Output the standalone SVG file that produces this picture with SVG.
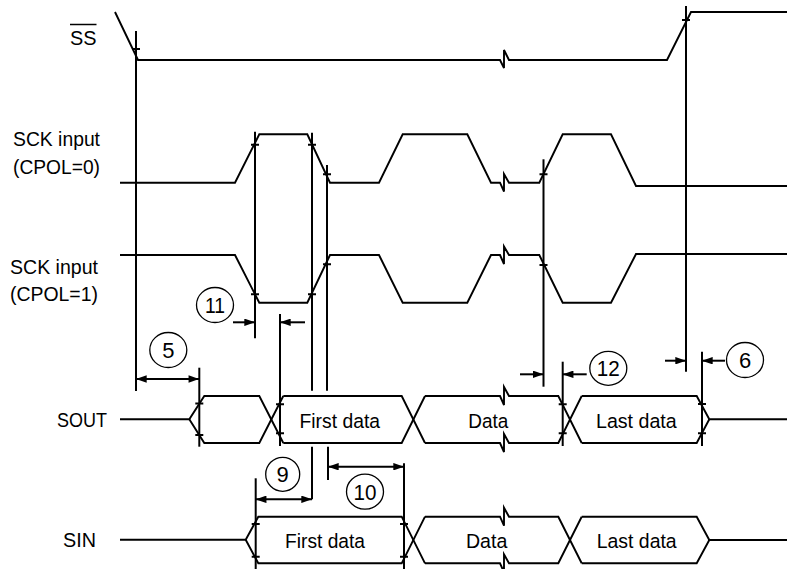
<svg xmlns="http://www.w3.org/2000/svg" width="787" height="569" viewBox="0 0 787 569">
<defs>
<marker id="ah" viewBox="0 0 10 7" refX="10" refY="3.5" markerWidth="11" markerHeight="7.5" markerUnits="userSpaceOnUse" orient="auto-start-reverse">
<path d="M0,0 L10,3.5 L0,7 z" fill="#000"/>
</marker>
</defs>
<style>
.w{fill:none;stroke:#000;stroke-width:1.9;stroke-linejoin:miter}
.v{stroke:#000;stroke-width:2}
.t{stroke:#000;stroke-width:2}
.a{stroke:#000;stroke-width:2;marker-end:url(#ah)}
.d{stroke:#000;stroke-width:2;marker-start:url(#ah);marker-end:url(#ah)}
.c{fill:#fff;stroke:#000;stroke-width:1.3}
text{font-family:"Liberation Sans",Arial,sans-serif;font-size:20.5px;fill:#000}
.m{text-anchor:middle}
.n{font-size:22px}
</style>
<rect width="787" height="569" fill="#fff"/>

<g id="labels">
<text x="70" y="45" textLength="26.5" lengthAdjust="spacingAndGlyphs">SS</text>
<line x1="70" y1="24.5" x2="96.5" y2="24.5" stroke="#000" stroke-width="1.5"/>
<text x="13" y="146" textLength="87" lengthAdjust="spacingAndGlyphs">SCK input</text>
<text x="13" y="173.5" textLength="87" lengthAdjust="spacingAndGlyphs">(CPOL=0)</text>
<text x="10" y="273.5" textLength="88" lengthAdjust="spacingAndGlyphs">SCK input</text>
<text x="10" y="300.5" textLength="88" lengthAdjust="spacingAndGlyphs">(CPOL=1)</text>
<text x="57" y="427" textLength="50" lengthAdjust="spacingAndGlyphs">SOUT</text>
<text x="63" y="547" textLength="33" lengthAdjust="spacingAndGlyphs">SIN</text>
</g>

<g id="ss">
<polyline class="w" points="115,12 138,60 500,60 504,68 504,50 509,60 667,60 691,12 787,12"/>
</g>

<g id="sck0">
<polyline class="w" points="120,182.7 235,182.7 259.3,134.3 307.3,134.3 330,182.7 379,182.7 402.7,134.3 467.3,134.3 491,182.7 500,182.7 504,191.5 504,174 509,182.7 539.3,182.7 562.7,134.3 611,134.3 636,186 787,186"/>
</g>

<g id="sck1">
<polyline class="w" points="120,255 235,255 259.3,302.7 307.3,302.7 330,255 379,255 402.7,302.7 467.3,302.7 491,255 500,255 504,264 504,246.5 509,255 539.3,255 562.7,302.7 611,302.7 636,254 787,254"/>
</g>

<g id="sout">
<polyline class="w" points="120,419.3 189.3,419.3 204.3,396 259.3,396 283.3,443"/>
<polyline class="w" points="189.3,419.3 204.3,443 259.3,443 283.3,396"/>
<polyline class="w" points="283.3,396 401.7,396 425,443"/>
<polyline class="w" points="283.3,443 401.7,443 425,396"/>
<polyline class="w" points="425,396 500,396 504,405 504,387 509,396 558.3,396 581.7,443"/>
<polyline class="w" points="425,443 500,443 504,452 504,434 509,443 558.3,443 581.7,396"/>
<polyline class="w" points="581.7,396 696.7,396 709.3,419.3 787,419.3"/>
<polyline class="w" points="581.7,443 696.7,443 709.3,419.3"/>
<text x="299.5" y="428" textLength="80.5" lengthAdjust="spacingAndGlyphs">First data</text>
<text x="468.3" y="428" textLength="40" lengthAdjust="spacingAndGlyphs">Data</text>
<text x="596" y="428" textLength="80.7" lengthAdjust="spacingAndGlyphs">Last data</text>
</g>

<g id="sin">
<polyline class="w" points="120,539.7 245.7,539.7 258.3,516.7 401.7,516.7 425,563.3"/>
<polyline class="w" points="245.7,539.7 258.3,563.3 401.7,563.3 425,516.7"/>
<polyline class="w" points="425,516.7 500,516.7 504,525.7 504,507.7 509,516.7 558.3,516.7 581.7,563.3"/>
<polyline class="w" points="425,563.3 500,563.3 504,572.3 504,554.3 509,563.3 558.3,563.3 581.7,516.7"/>
<polyline class="w" points="581.7,516.7 696.7,516.7 709.3,540 787,540"/>
<polyline class="w" points="581.7,563.3 696.7,563.3 709.3,540"/>
<text x="285" y="548" textLength="80" lengthAdjust="spacingAndGlyphs">First data</text>
<text x="466" y="548" textLength="41.3" lengthAdjust="spacingAndGlyphs">Data</text>
<text x="596.7" y="548" textLength="80" lengthAdjust="spacingAndGlyphs">Last data</text>
</g>

<g id="connectors">
<line class="v" x1="136" y1="31" x2="136" y2="391"/>
<line class="v" x1="255" y1="131.7" x2="255" y2="338.3"/>
<line class="v" x1="312" y1="132.7" x2="312" y2="390.7"/>
<line class="v" x1="312" y1="446.7" x2="312" y2="499.3"/>
<line class="v" x1="327" y1="165" x2="327" y2="390.7"/>
<line class="v" x1="328" y1="446.7" x2="328" y2="480"/>
<line class="v" x1="280" y1="314" x2="280" y2="446"/>
<line class="v" x1="199.3" y1="367.7" x2="199.3" y2="446.7"/>
<line class="v" x1="543.5" y1="159.3" x2="543.5" y2="386.7"/>
<line class="v" x1="562.7" y1="361.7" x2="562.7" y2="446"/>
<line class="v" x1="686" y1="6" x2="686" y2="371.7"/>
<line class="v" x1="702" y1="351.7" x2="702" y2="446"/>
<line class="v" x1="255.7" y1="478.3" x2="255.7" y2="569"/>
<line class="v" x1="404" y1="463.3" x2="404" y2="569"/>

<path class="t" d="M132,49h8 M682,20h8 M251,144.7h8 M251,294.3h8 M308,144.7h8 M308,294.3h8 M323,174.3h8 M323,264.3h8 M539.5,174.3h8 M539.5,265h8 M195.3,403.5h8 M195.3,435h8 M276,404.3h8 M276,433.3h8 M558.7,404.3h8 M558.7,433.3h8 M698,404h8 M698,433.3h8 M251.7,524h8 M251.7,556.7h8 M400,524h8 M400,556.7h8"/>

<line class="a" x1="233" y1="322.3" x2="255" y2="322.3"/>
<line class="a" x1="305" y1="322.3" x2="280" y2="322.3"/>
<line class="d" x1="136" y1="379" x2="199.3" y2="379"/>
<line class="d" x1="255.7" y1="499.3" x2="312" y2="499.3"/>
<line class="d" x1="328" y1="466.7" x2="404" y2="466.7"/>
<line class="a" x1="520" y1="374.3" x2="543.5" y2="374.3"/>
<line class="a" x1="586.7" y1="374.3" x2="562.7" y2="374.3"/>
<line class="a" x1="665" y1="360.7" x2="686" y2="360.7"/>
<line class="a" x1="725" y1="360.7" x2="702" y2="360.7"/>
</g>

<g id="n11"><ellipse class="c" cx="215" cy="305" rx="18.5" ry="17.5"/><text class="m n" x="215" y="313" textLength="20" lengthAdjust="spacingAndGlyphs">11</text></g>
<g id="n5"><ellipse class="c" cx="168.3" cy="350" rx="18.5" ry="17.5"/><text class="m n" x="168.3" y="358">5</text></g>
<g id="n9"><ellipse class="c" cx="282.7" cy="474.3" rx="17" ry="17"/><text class="m n" x="282.7" y="482.3">9</text></g>
<g id="n10"><ellipse class="c" cx="365" cy="491.7" rx="18.5" ry="17.5"/><text class="m n" x="365" y="499.7" textLength="23" lengthAdjust="spacingAndGlyphs">10</text></g>
<g id="n12"><ellipse class="c" cx="608.3" cy="368.3" rx="18.5" ry="17"/><text class="m n" x="608.3" y="376.3" textLength="23" lengthAdjust="spacingAndGlyphs">12</text></g>
<g id="n6"><ellipse class="c" cx="745" cy="360" rx="18.5" ry="17.5"/><text class="m n" x="745" y="368">6</text></g>
</svg>
